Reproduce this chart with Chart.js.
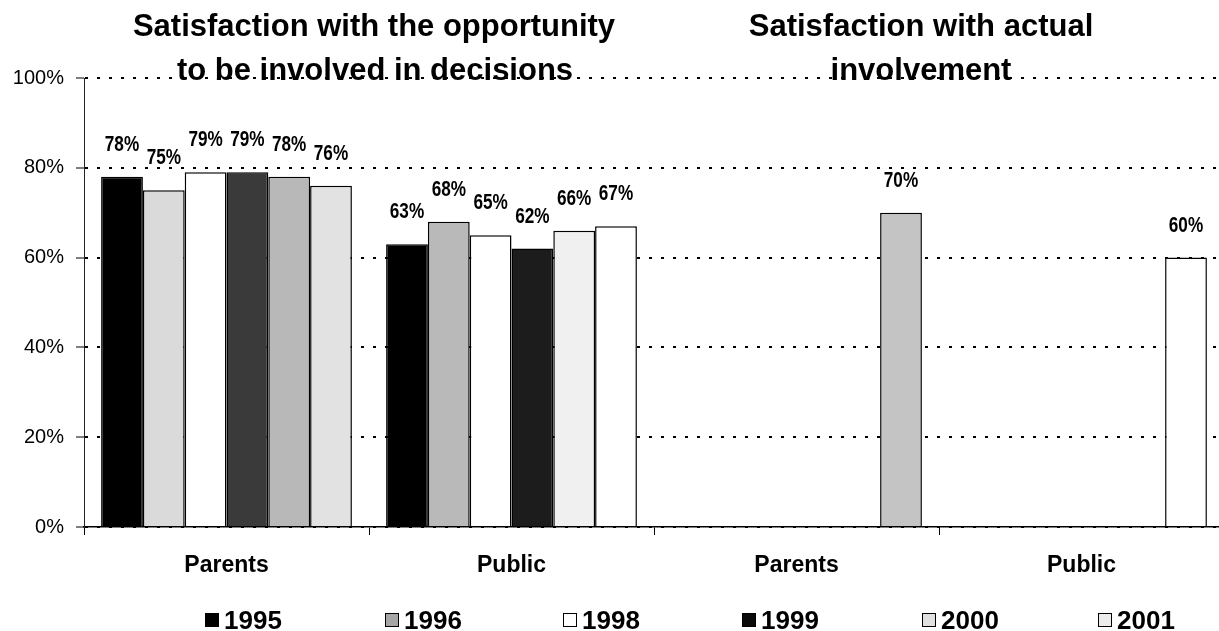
<!DOCTYPE html>
<html>
<head>
<meta charset="utf-8">
<title>Satisfaction with involvement</title>
<script src="https://cdn.jsdelivr.net/npm/chart.js@4.4.1/dist/chart.umd.min.js"></script>
<style>
	html, body { margin: 0; padding: 0; background: #fff; overflow: hidden; }
	#wrap { position: relative; width: 1219px; height: 631px; overflow: hidden; }
	#legend {
		position: absolute; left: 0; top: 605px; width: 1219px; height: 30px;
		font: bold 26px "Liberation Sans", Arial, sans-serif; color: #000;
	}
	#legend .item { position: absolute; top: 0; display: flex; align-items: center; line-height: 30px; }
	#legend .box { width: 14px; height: 14px; border: 1px solid #000; margin-right: 5px; box-sizing: border-box; }
</style>
</head>
<body>
<div id="wrap">
	<canvas id="myChart" width="1224" height="631"></canvas>
	<div id="legend"></div>
</div>
<script>
// categories and series
const categories = ['Parents', 'Public', 'Parents', 'Public'];
const years = ['1995', '1996', '1998', '1999', '2000', '2001'];
const values1995 = [78, 63, null, null];
const values1996 = [75, 68, null, null];
const values1998 = [79, 65, null, null];
const values1999 = [79, 62, null, null];
const values2000 = [78, 66, null, null];
const values2001 = [76, 67, 70, 60];
const yTicks = [0, 20, 40, 60, 80, 100];
const titleLeft = ['Satisfaction with the opportunity', 'to be involved in decisions'];
const titleRight = ['Satisfaction with actual', 'involvement'];

const seriesValues = [values1995, values1996, values1998, values1999, values2000, values2001];
// fills per bar (halftone greys flattened)
const fills = [
	['#000000', '#000000', '#000000', '#000000'],
	['#dadada', '#b9b9b9', '#dadada', '#dadada'],
	['#ffffff', '#ffffff', '#ffffff', '#ffffff'],
	['#3a3a3a', '#1c1c1c', '#3a3a3a', '#3a3a3a'],
	['#b8b8b8', '#f0f0f0', '#b8b8b8', '#b8b8b8'],
	['#e2e2e2', '#ffffff', '#c4c4c4', '#ffffff']
];
const legendFills = ['#000000', '#a6a6a6', '#ffffff', '#0a0a0a', '#e0e0e0', '#ececec'];
const legendX = [205, 385, 563, 742, 922, 1098];

const FONT = '"Liberation Sans", Arial, sans-serif';

// value labels above each bar
const barLabels = {
	id: 'barLabels',
	afterDatasetsDraw(chart) {
		const ctx = chart.ctx;
		ctx.save();
		ctx.fillStyle = '#000';
		ctx.font = 'bold 22px ' + FONT;
		ctx.textAlign = 'center';
		ctx.textBaseline = 'middle';
		chart.data.datasets.forEach((ds, i) => {
			const meta = chart.getDatasetMeta(i);
			meta.data.forEach((bar, j) => {
				const v = ds.data[j];
				if (v === null || v === undefined) return;
				ctx.save();
				ctx.translate(bar.x, bar.y - 32);
				ctx.scale(0.78, 1);
				ctx.fillText(v + '%', 0, 0);
				ctx.restore();
			});
		});
		ctx.restore();
	}
};

// the two panel headings, second line sits on the 100% gridline
const panelTitles = {
	id: 'panelTitles',
	afterDraw(chart) {
		const ctx = chart.ctx;
		const top = chart.scales.y.getPixelForValue(100);
		ctx.save();
		ctx.fillStyle = '#000';
		ctx.font = 'bold 31px ' + FONT;
		ctx.textAlign = 'center';
		ctx.textBaseline = 'alphabetic';
		ctx.fillText(titleLeft[0], 374, top - 42);
		ctx.fillText(titleLeft[1], 375, top + 2);
		ctx.fillText(titleRight[0], 921, top - 42);
		ctx.fillText(titleRight[1], 921, top + 2);
		ctx.restore();
	}
};

const ctx = document.getElementById('myChart').getContext('2d');
const myChart = new Chart(ctx, {
	type: 'bar',
	data: {
		labels: categories,
		datasets: years.map((year, i) => ({
			label: year,
			data: seriesValues[i],
			backgroundColor: fills[i],
			borderColor: '#000',
			borderWidth: 1.5,
			borderSkipped: 'bottom',
			categoryPercentage: 0.88,
			barPercentage: 1.0
		}))
	},
	options: {
		responsive: false,
		animation: false,
		layout: { padding: { top: 78, left: 12, right: 0, bottom: 52 } },
		plugins: {
			legend: { display: false },
			tooltip: { enabled: false }
		},
		scales: {
			x: {
				afterFit: (scale) => { scale.height = 52; },
				grid: { offset: true, drawOnChartArea: false, tickLength: 8, color: '#000', lineWidth: 1 },
				border: { color: '#000', width: 1.5 },
				ticks: { color: '#000', padding: 17, font: { family: FONT, size: 23, weight: 'bold' } }
			},
			y: {
				min: 0,
				max: 100,
				afterFit: (scale) => { scale.width = 72; },
				afterBuildTicks: (scale) => { scale.ticks = yTicks.map((v) => ({ value: v })); },
				ticks: {
					color: '#000',
					padding: 12,
					font: { family: FONT, size: 20 },
					callback: (v) => v + '%'
				},
				grid: { color: '#000', lineWidth: 2, tickLength: 8, tickColor: '#000', tickWidth: 1 },
				border: { color: '#222', width: 1, dash: [3, 9] }
			}
		}
	},
	plugins: [barLabels, panelTitles]
});

// legend drawn as html below the chart
const legend = document.getElementById('legend');
years.forEach((year, i) => {
	const item = document.createElement('div');
	item.className = 'item';
	item.style.left = legendX[i] + 'px';
	const box = document.createElement('span');
	box.className = 'box';
	box.style.background = legendFills[i];
	const text = document.createElement('span');
	text.textContent = year;
	item.appendChild(box);
	item.appendChild(text);
	legend.appendChild(item);
});
</script>
</body>
</html>
